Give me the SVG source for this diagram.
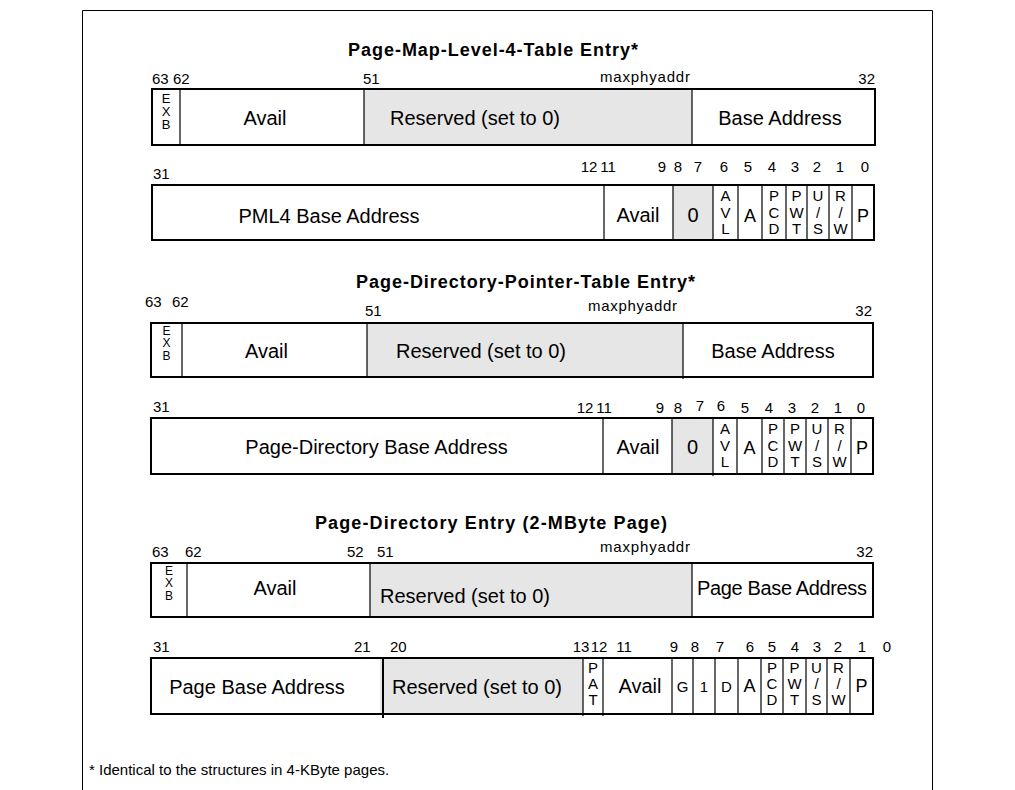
<svg xmlns="http://www.w3.org/2000/svg" width="1015" height="790" viewBox="0 0 1015 790">
<style>
text{font-family:"Liberation Sans",Arial,sans-serif;fill:#000}
.ttl{font-size:18px;font-weight:bold;text-anchor:middle}
.lbl{font-size:20px;text-anchor:middle}
.num{font-size:15px}
.mid{text-anchor:middle}
.end{text-anchor:end}
.stk{font-size:15px;text-anchor:middle}
.exb{font-size:13px;text-anchor:middle}
.exs{font-size:12px;text-anchor:middle}
.sgl{font-size:18px;text-anchor:middle}
.sml{font-size:15px;text-anchor:middle}
.box{fill:#fff}
.frm{fill:none;stroke:#000;stroke-width:2}
.gray{fill:#e6e6e6}
.dv{stroke:#000;stroke-width:1.2}
.foot{font-size:15px}
</style>
<rect x="0" y="0" width="1015" height="790" fill="#fff"/>
<path d="M82.5,790 V10.5 H932.5 V790" fill="none" stroke="#000" stroke-width="1"/>

<g id="pml4e">
<text class="ttl" x="493" y="56" textLength="290">Page-Map-Level-4-Table Entry*</text>
<g id="pml4e-high">
<rect class="box" x="152" y="89" width="723" height="56"/>
<rect class="gray" x="364" y="89" width="328" height="56"/>
<line class="dv" x1="180" y1="89" x2="180" y2="145"/>
<line class="dv" x1="364" y1="89" x2="364" y2="145"/>
<line class="dv" x1="692" y1="89" x2="692" y2="145"/>
<rect class="frm" x="152" y="89" width="723" height="56"/>
<text class="exb" x="166" y="102.5">E</text><text class="exb" x="166" y="115.5">X</text><text class="exb" x="166" y="128.5">B</text>
<text class="lbl" x="265" y="125">Avail</text>
<text class="lbl" x="475" y="125">Reserved (set to 0)</text>
<text class="lbl" x="780" y="125">Base Address</text>
<text class="num" x="152" y="84">63</text>
<text class="num" x="173" y="84">62</text>
<text class="num" x="363" y="84">51</text>
<text class="num end" x="690" y="82" textLength="90">maxphyaddr</text>
<text class="num end" x="875" y="84">32</text>
</g>
<g id="pml4e-low">
<rect class="box" x="152" y="185" width="722" height="55"/>
<rect class="gray" x="673" y="185" width="40" height="55"/>
<line class="dv" x1="604" y1="185" x2="604" y2="240"/>
<line class="dv" x1="673" y1="185" x2="673" y2="240"/>
<line class="dv" x1="713" y1="185" x2="713" y2="240"/>
<line class="dv" x1="738" y1="185" x2="738" y2="240"/>
<line class="dv" x1="762" y1="185" x2="762" y2="240"/>
<line class="dv" x1="786" y1="185" x2="786" y2="240"/>
<line class="dv" x1="807" y1="185" x2="807" y2="240"/>
<line class="dv" x1="829" y1="185" x2="829" y2="240"/>
<line class="dv" x1="852" y1="185" x2="852" y2="240"/>
<rect class="frm" x="152" y="185" width="722" height="55"/>
<text class="lbl" x="329" y="223">PML4 Base Address</text>
<text class="lbl" x="638" y="222">Avail</text>
<text class="lbl" x="693" y="222">0</text>
<text class="stk" x="725.5" y="201">A</text><text class="stk" x="725.5" y="217.5">V</text><text class="stk" x="725.5" y="234">L</text>
<text class="sgl" x="750" y="222">A</text>
<text class="stk" x="774" y="201">P</text><text class="stk" x="774" y="217.5">C</text><text class="stk" x="774" y="234">D</text>
<text class="stk" x="796.5" y="201">P</text><text class="stk" x="796.5" y="217.5">W</text><text class="stk" x="796.5" y="234">T</text>
<text class="stk" x="818" y="201">U</text><text class="stk" x="818" y="217.5">/</text><text class="stk" x="818" y="234">S</text>
<text class="stk" x="840.5" y="201">R</text><text class="stk" x="840.5" y="217.5">/</text><text class="stk" x="840.5" y="234">W</text>
<text class="sgl" x="863" y="222">P</text>
<text class="num" x="153" y="179">31</text>
<text class="num mid" x="589" y="172">12</text>
<text class="num mid" x="608" y="172">11</text>
<text class="num mid" x="662" y="172">9</text>
<text class="num mid" x="678" y="172">8</text>
<text class="num mid" x="698" y="172">7</text>
<text class="num mid" x="724" y="172">6</text>
<text class="num mid" x="748" y="172">5</text>
<text class="num mid" x="772" y="172">4</text>
<text class="num mid" x="795" y="172">3</text>
<text class="num mid" x="817" y="172">2</text>
<text class="num mid" x="840" y="172">1</text>
<text class="num mid" x="865" y="172">0</text>
</g>
</g>

<g id="pdpte">
<text class="ttl" x="525.5" y="288" textLength="339">Page-Directory-Pointer-Table Entry*</text>
<g id="pdpte-high">
<rect class="box" x="151" y="323" width="722" height="54"/>
<rect class="gray" x="367" y="323" width="316" height="54"/>
<line class="dv" x1="182" y1="323" x2="182" y2="377"/>
<line class="dv" x1="367" y1="323" x2="367" y2="377"/>
<line class="dv" x1="683" y1="323" x2="683" y2="379"/>
<rect class="frm" x="151" y="323" width="722" height="54"/>
<text class="exs" x="166.5" y="334.5">E</text><text class="exs" x="166.5" y="347">X</text><text class="exs" x="166.5" y="359.5">B</text>
<text class="lbl" x="266.5" y="358">Avail</text>
<text class="lbl" x="481" y="358">Reserved (set to 0)</text>
<text class="lbl" x="773" y="358">Base Address</text>
<text class="num" x="145" y="307">63</text>
<text class="num" x="172" y="307">62</text>
<text class="num" x="365" y="316">51</text>
<text class="num end" x="677" y="311" textLength="89">maxphyaddr</text>
<text class="num end" x="872" y="316">32</text>
</g>
<g id="pdpte-low">
<rect class="box" x="151" y="418" width="722" height="56"/>
<rect class="gray" x="672" y="418" width="41" height="56"/>
<line class="dv" x1="603" y1="418" x2="603" y2="474"/>
<line class="dv" x1="672" y1="418" x2="672" y2="474"/>
<line class="dv" x1="713" y1="418" x2="713" y2="476"/>
<line class="dv" x1="737" y1="418" x2="737" y2="474"/>
<line class="dv" x1="762" y1="418" x2="762" y2="474"/>
<line class="dv" x1="784" y1="418" x2="784" y2="474"/>
<line class="dv" x1="806" y1="418" x2="806" y2="474"/>
<line class="dv" x1="828" y1="418" x2="828" y2="474"/>
<line class="dv" x1="851" y1="418" x2="851" y2="474"/>
<rect class="frm" x="151" y="418" width="722" height="56"/>
<text class="lbl" x="376.5" y="454">Page-Directory Base Address</text>
<text class="lbl" x="638" y="454">Avail</text>
<text class="lbl" x="692.5" y="454">0</text>
<text class="stk" x="725" y="434">A</text><text class="stk" x="725" y="450.5">V</text><text class="stk" x="725" y="467">L</text>
<text class="sgl" x="749.5" y="454">A</text>
<text class="stk" x="773" y="434">P</text><text class="stk" x="773" y="450.5">C</text><text class="stk" x="773" y="467">D</text>
<text class="stk" x="795" y="434">P</text><text class="stk" x="795" y="450.5">W</text><text class="stk" x="795" y="467">T</text>
<text class="stk" x="817" y="434">U</text><text class="stk" x="817" y="450.5">/</text><text class="stk" x="817" y="467">S</text>
<text class="stk" x="839.5" y="434">R</text><text class="stk" x="839.5" y="450.5">/</text><text class="stk" x="839.5" y="467">W</text>
<text class="sgl" x="862" y="454">P</text>
<text class="num" x="153" y="412">31</text>
<text class="num mid" x="585" y="413">12</text>
<text class="num mid" x="604" y="413">11</text>
<text class="num mid" x="660" y="413">9</text>
<text class="num mid" x="678" y="413">8</text>
<text class="num mid" x="700" y="411">7</text>
<text class="num mid" x="721" y="411">6</text>
<text class="num mid" x="745" y="413">5</text>
<text class="num mid" x="769" y="413">4</text>
<text class="num mid" x="792" y="413">3</text>
<text class="num mid" x="815" y="413">2</text>
<text class="num mid" x="838" y="413">1</text>
<text class="num mid" x="861" y="413">0</text>
</g>
</g>

<g id="pde">
<text class="ttl" x="491" y="529" textLength="352">Page-Directory Entry (2-MByte Page)</text>
<g id="pde-high">
<rect class="box" x="151" y="563" width="722" height="54"/>
<rect class="gray" x="370" y="563" width="322" height="54"/>
<line class="dv" x1="187" y1="563" x2="187" y2="617"/>
<line class="dv" x1="370" y1="563" x2="370" y2="617"/>
<line class="dv" x1="692" y1="563" x2="692" y2="617"/>
<rect class="frm" x="151" y="563" width="722" height="54"/>
<text class="exs" x="169" y="574.5">E</text><text class="exs" x="169" y="587">X</text><text class="exs" x="169" y="599.5">B</text>
<text class="lbl" x="275" y="595">Avail</text>
<text class="lbl" x="465" y="603">Reserved (set to 0)</text>
<text class="lbl" x="782" y="595" textLength="170">Page Base Address</text>
<text class="num" x="152" y="557">63</text>
<text class="num" x="185" y="557">62</text>
<text class="num" x="347" y="557">52</text>
<text class="num" x="377" y="557">51</text>
<text class="num end" x="690" y="552" textLength="90">maxphyaddr</text>
<text class="num end" x="873" y="557">32</text>
</g>
<g id="pde-low">
<rect class="box" x="151" y="658" width="722" height="56"/>
<rect class="gray" x="380" y="658" width="203" height="56"/>
<line class="dv" x1="583" y1="658" x2="583" y2="716"/>
<line class="dv" x1="603" y1="658" x2="603" y2="716"/>
<line class="dv" x1="672" y1="658" x2="672" y2="714"/>
<line class="dv" x1="693" y1="658" x2="693" y2="714"/>
<line class="dv" x1="715" y1="658" x2="715" y2="714"/>
<line class="dv" x1="738" y1="658" x2="738" y2="714"/>
<line class="dv" x1="761" y1="658" x2="761" y2="714"/>
<line class="dv" x1="783" y1="658" x2="783" y2="714"/>
<line class="dv" x1="806" y1="658" x2="806" y2="714"/>
<line class="dv" x1="827" y1="658" x2="827" y2="714"/>
<line class="dv" x1="850" y1="658" x2="850" y2="714"/>
<rect class="frm" x="151" y="658" width="722" height="56"/>
<line x1="383" y1="658" x2="383" y2="718" stroke="#000" stroke-width="2"/>
<text class="lbl" x="257" y="694">Page Base Address</text>
<text class="lbl" x="477" y="694">Reserved (set to 0)</text>
<text class="stk" x="593" y="673">P</text><text class="stk" x="593" y="689">A</text><text class="stk" x="593" y="705">T</text>
<text class="lbl" x="640" y="693">Avail</text>
<text class="sml" x="682.5" y="692">G</text>
<text class="sml" x="704" y="692">1</text>
<text class="sml" x="726.5" y="692">D</text>
<text class="sgl" x="749.5" y="692">A</text>
<text class="stk" x="772" y="673">P</text><text class="stk" x="772" y="689">C</text><text class="stk" x="772" y="705">D</text>
<text class="stk" x="794.5" y="673">P</text><text class="stk" x="794.5" y="689">W</text><text class="stk" x="794.5" y="705">T</text>
<text class="stk" x="816.5" y="673">U</text><text class="stk" x="816.5" y="689">/</text><text class="stk" x="816.5" y="705">S</text>
<text class="stk" x="838.5" y="673">R</text><text class="stk" x="838.5" y="689">/</text><text class="stk" x="838.5" y="705">W</text>
<text class="sgl" x="861.5" y="692">P</text>
<text class="num" x="153" y="652">31</text>
<text class="num" x="354" y="652">21</text>
<text class="num" x="390" y="652">20</text>
<text class="num mid" x="581" y="652">13</text>
<text class="num mid" x="599" y="652">12</text>
<text class="num mid" x="624" y="652">11</text>
<text class="num mid" x="674" y="652">9</text>
<text class="num mid" x="695" y="652">8</text>
<text class="num mid" x="720" y="652">7</text>
<text class="num mid" x="750" y="652">6</text>
<text class="num mid" x="772" y="652">5</text>
<text class="num mid" x="795" y="652">4</text>
<text class="num mid" x="817" y="652">3</text>
<text class="num mid" x="838" y="652">2</text>
<text class="num mid" x="862" y="652">1</text>
<text class="num mid" x="887" y="652">0</text>
</g>
</g>

<text class="foot" x="89" y="775">* Identical to the structures in 4-KByte pages.</text>
</svg>
